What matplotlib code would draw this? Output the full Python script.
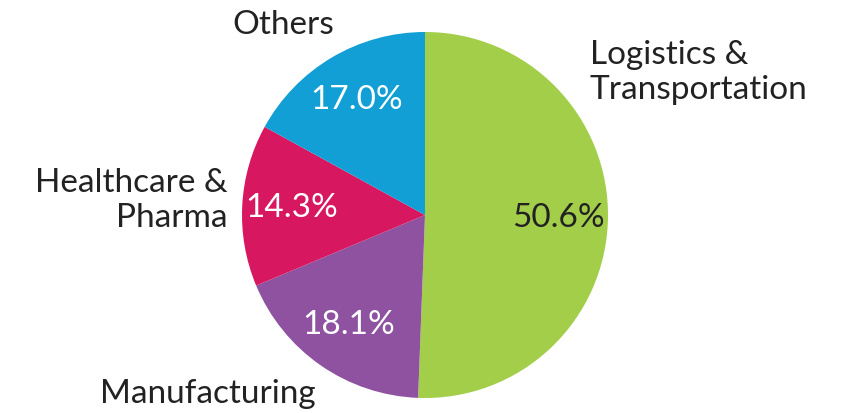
import matplotlib
matplotlib.use("Agg")
import matplotlib.pyplot as plt

# data
sectors = ["Logistics &\nTransportation", "Manufacturing", "Healthcare &\nPharma", "Others"]
shares = [50.6, 18.1, 14.3, 17.0]
colors = ["#A3CE4A", "#8E52A1", "#D7175F", "#119FD5"]
pct_colors = ["#222222", "white", "white", "white"]

plt.rcParams['font.family'] = ['Lato', 'DejaVu Sans']

fig = plt.figure(figsize=(8.51, 4.13), dpi=100)
# pie centre about (425, 215) px, radius about 183 px
ax = fig.add_axes([(425 - 183) / 851, 1 - (215 + 183) / 413, 366 / 851, 366 / 413])

wedges, texts, autotexts = ax.pie(
    shares, colors=colors, labels=sectors, startangle=90, counterclock=False,
    autopct="%.1f%%", pctdistance=0.73, labeldistance=1.2,
    wedgeprops={"linewidth": 0},
    textprops={"fontsize": 24, "color": "#222222"})

for t, c in zip(autotexts, pct_colors):
    t.set_color(c)
    t.set_fontsize(24)

# label positions (data units, radius = 1)
label_pos = [(0.90, 0.78, "left"), (-1.186, -0.98, "center"),
             (-1.077, 0.08, "right"), (-0.776, 1.04, "center")]
for t, (x, y, ha) in zip(texts, label_pos):
    t.set_position((x, y))
    t.set_ha(ha)
    t.set_va("center")
    t.set_multialignment(ha)

ax.set_xlim(-1, 1)
ax.set_ylim(-1, 1)
ax.set_aspect("equal")

fig.savefig("out.png", dpi=100)
